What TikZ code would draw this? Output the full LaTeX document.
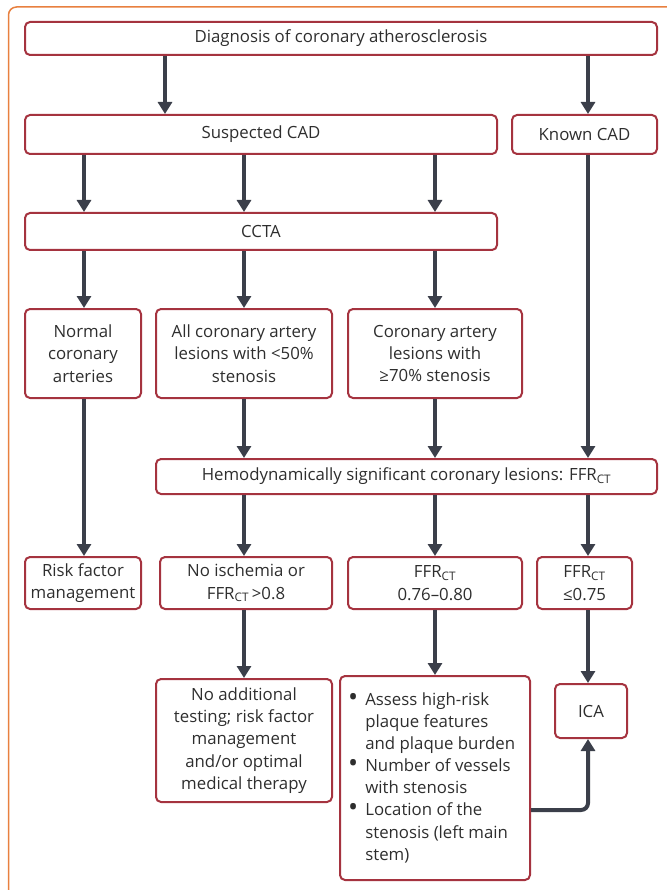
\documentclass[tikz,border=0pt]{standalone}
\usepackage{fontspec}
\setmainfont{Open Sans}
\usetikzlibrary{arrows.meta}
\definecolor{boxred}{HTML}{A5333F}
\definecolor{arrgray}{HTML}{3B3F4A}
\definecolor{frameor}{HTML}{E8803F}
\definecolor{txt}{HTML}{2E2E2E}
\newcommand{\ffr}{FFR\textsubscript{CT}}
\newcommand{\bx}[6]{%
  \node[bx, minimum width={(#4-#2)*1pt}, minimum height={(#5-#3)*1pt}] (#1) at ({(#2+#4)/2},{(#3+#5)/2}) {#6};}
\newcommand{\bul}{\raisebox{-0.1ex}{\scalebox{1.6}{\textbullet}}}
\begin{document}
\begin{tikzpicture}[x=1pt,y=-1pt,
  bx/.style={draw=boxred, line width=2pt, rounded corners=5pt, inner sep=0pt,
    align=center, text=txt, font=\fontsize{16.8}{22.4}\selectfont},
  arr/.style={draw=arrgray, line width=4pt, -{Triangle[width=14pt,length=12pt]}},
  ]
\useasboundingbox (0,0) rectangle (666,890);
\draw[frameor, line width=1.5pt, rounded corners=8pt] (8.5,900) -- (8.5,7) -- (680,7);
% column coordinates
\coordinate (c84) at (84,0);
\coordinate (c165) at (165,0);
\coordinate (c244) at (244,0);
\coordinate (c435) at (435,0);
\coordinate (c588) at (588,0);
\coordinate (r810) at (0,810);
% boxes
\bx{diag}{25}{22}{657}{55}{Diagnosis of coronary atherosclerosis}
\bx{sus}{25}{115}{497}{154}{Suspected CAD}
\bx{known}{512}{115}{657}{154}{Known CAD}
\bx{ccta}{25}{213}{497}{250}{CCTA}
\bx{norm}{25}{309}{141}{398}{Normal\\coronary\\arteries}
\bx{all}{156}{309}{332}{398}{All coronary artery\\lesions with <50\%\\stenosis}
\bx{sev}{348}{309}{522}{398}{Coronary artery\\lesions with\\≥70\% stenosis}
\bx{hemo}{156}{459}{657}{494}{Hemodynamically significant coronary lesions: \ffr}
\bx{risk}{25}{557}{141}{609}{Risk factor\\management}
\bx{noisch}{160}{557}{332}{609}{No ischemia or\\\ffr\,>0.8}
\bx{mid}{348}{557}{522}{609}{\ffr\\0.76–0.80}
\bx{low}{537}{557}{632}{609}{\ffr\\≤0.75}
\bx{noadd}{156}{679}{332}{802}{No additional\\testing; risk factor\\management\\and/or optimal\\medical therapy}
\bx{bul}{340}{676}{530}{880}{}
\node[anchor=north west, inner sep=0pt, text=txt, font=\fontsize{16.8}{22.4}\selectfont] (bultext) at ([xshift=9pt,yshift=-15pt]bul.north west)
{\renewcommand{\arraystretch}{0.985}\begin{tabular}{@{}l@{\hspace{7pt}}l@{}}
\bul & Assess high-risk\\ & plaque features\\ & and plaque burden\\
\bul & Number of vessels\\ & with stenosis\\
\bul & Location of the\\ & stenosis (left main\\ & stem)\end{tabular}};
\bx{ica}{555}{684}{627}{738}{ICA}
% arrows
\draw[arr] (diag.south -| c165) -- (sus.north -| c165);
\draw[arr] (diag.south -| c588) -- (known.north -| c588);
\foreach \c in {c84,c244,c435}{
  \draw[arr] (sus.south -| \c) -- (ccta.north -| \c);
}
\draw[arr] (ccta.south -| c84) -- (norm.north -| c84);
\draw[arr] (ccta.south -| c244) -- (all.north -| c244);
\draw[arr] (ccta.south -| c435) -- (sev.north -| c435);
\draw[arr] (known.south -| c588) -- (hemo.north -| c588);
\draw[arr] (all.south -| c244) -- (hemo.north -| c244);
\draw[arr] (sev.south -| c435) -- (hemo.north -| c435);
\draw[arr] (norm.south -| c84) -- (risk.north -| c84);
\draw[arr] (hemo.south -| c244) -- (noisch.north -| c244);
\draw[arr] (hemo.south -| c435) -- (mid.north -| c435);
\draw[arr] (hemo.south -| c588) -- (low.north -| c588);
\draw[arr] (noisch.south -| c244) -- (noadd.north -| c244);
\draw[arr] (mid.south -| c435) -- (bul.north -| c435);
\draw[arr] (low.south -| c588) -- (ica.north -| c588);
\draw[arr, rounded corners=7pt] (bul.east |- r810) -| (ica.south -| c588);
\end{tikzpicture}
\end{document}
